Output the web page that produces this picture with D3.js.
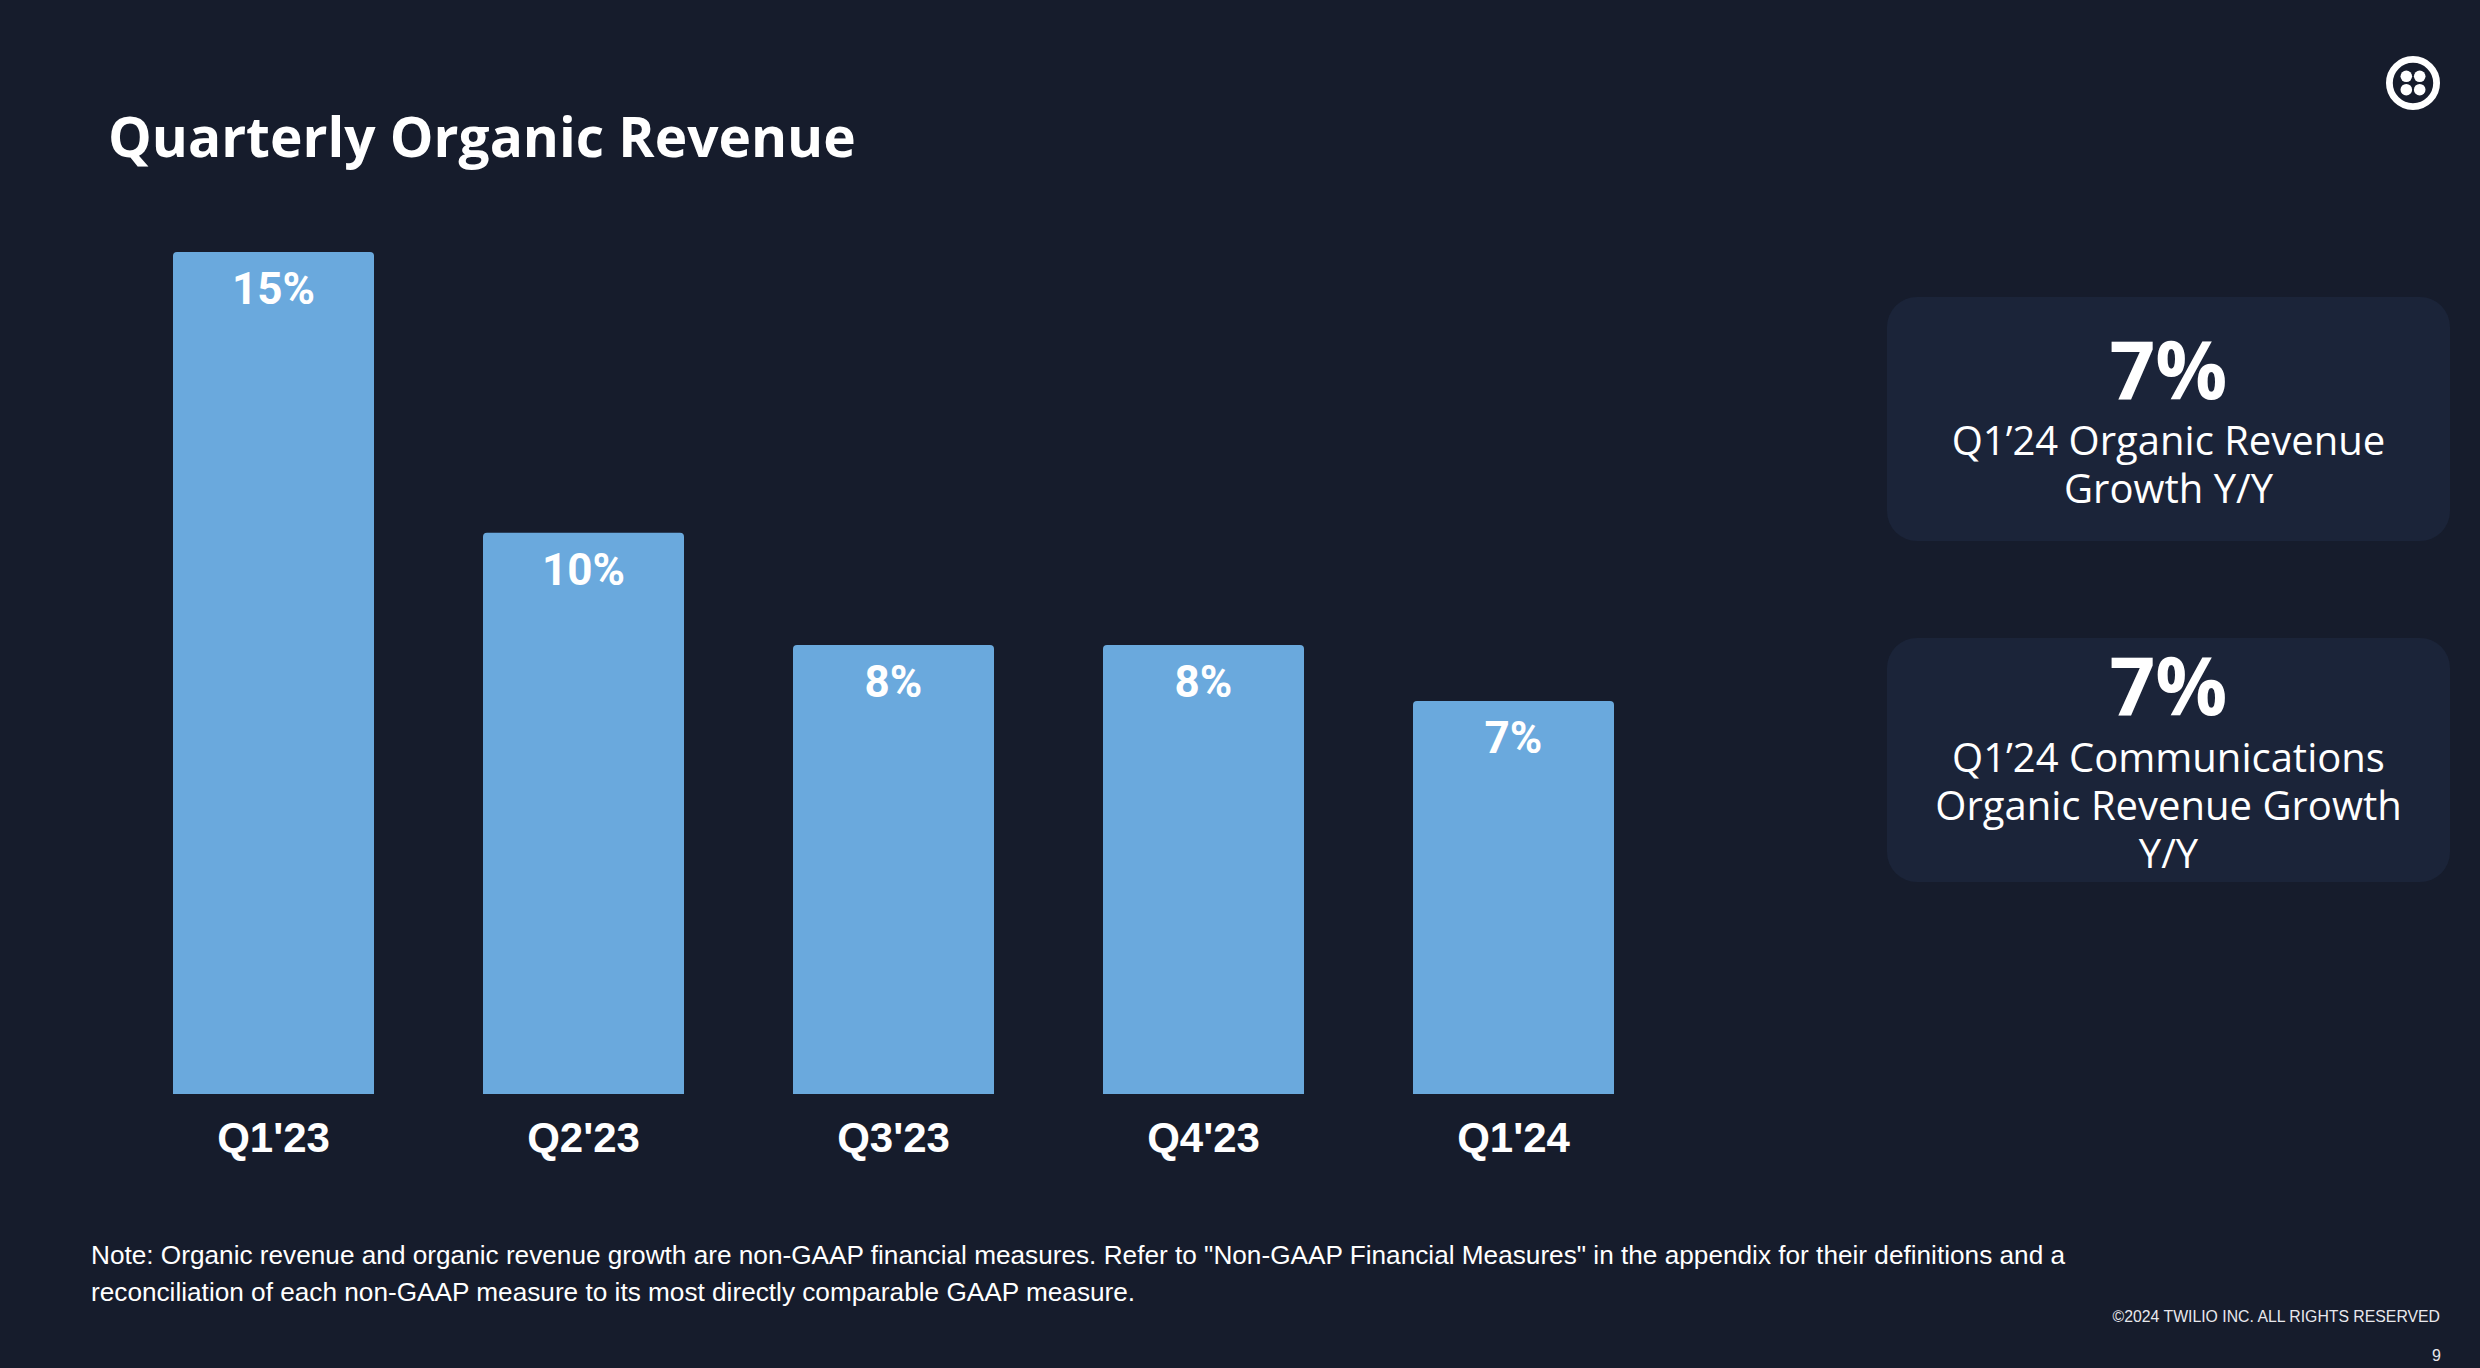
<!DOCTYPE html>
<html>
<head>
<meta charset="utf-8">
<script src="https://cdn.jsdelivr.net/npm/d3@7/dist/d3.min.js"></script>
<style>
  html, body { margin: 0; padding: 0; background: #161c2c; }
  svg { display: block; }
</style>
</head>
<body>
<svg id="chart" width="2480" height="1368"></svg>
<script>
const categories = ["Q1'23", "Q2'23", "Q3'23", "Q4'23", "Q1'24"];
const growthValues = [15, 10, 8, 8, 7];
const valueLabels = ["15%", "10%", "8%", "8%", "7%"];
const title = "Quarterly Organic Revenue";
const kpiValues = ["7%", "7%"];
const kpiLabels = [
  ["Q1\u201924 Organic Revenue", "Growth Y/Y"],
  ["Q1\u201924 Communications", "Organic Revenue Growth", "Y/Y"]
];
const noteLines = [
  "Note: Organic revenue and organic revenue growth are non-GAAP financial measures. Refer to \"Non-GAAP Financial Measures\" in the appendix for their definitions and a",
  "reconciliation of each non-GAAP measure to its most directly comparable GAAP measure."
];
const copyright = "\u00A92024 TWILIO INC. ALL RIGHTS RESERVED";
const pageNumber = "9";

const BG = "#161c2c";
const BAR = "#6aa9dd";
const BOX = "#1b2439";

const svg = d3.select("#chart");
svg.append("rect").attr("width", 2480).attr("height", 1368).attr("fill", BG);

// Title
svg.append("text").attr("x", 108).attr("y", 157)
  .attr("font-family", "'Open Sans'").attr("font-weight", 700).attr("font-size", 55)
  .attr("fill", "#ffffff").text(title);

// Logo
const logo = svg.append("g").attr("transform", "translate(2413,83)");
logo.append("circle").attr("r", 23.6).attr("fill", "none").attr("stroke", "#ffffff").attr("stroke-width", 6.8);
[[-6.7,-6.7],[6.7,-6.7],[-6.7,6.7],[6.7,6.7]].forEach(([dx,dy]) => {
  logo.append("circle").attr("cx", dx).attr("cy", dy).attr("r", 5.8).attr("fill", "#ffffff");
});

// Scales
const x = d3.scaleBand().domain(categories).range([173, 1614]).paddingInner(1 - 201/310).paddingOuter(0);
const y = d3.scaleLinear().domain([0, 15]).range([1094, 252]);

const data = categories.map((c, i) => ({ c, v: growthValues[i], label: valueLabels[i] }));

function topRounded(x0, y0, w, h, r) {
  return `M${x0},${y0 + h} L${x0},${y0 + r} Q${x0},${y0} ${x0 + r},${y0} L${x0 + w - r},${y0} Q${x0 + w},${y0} ${x0 + w},${y0 + r} L${x0 + w},${y0 + h} Z`;
}

svg.append("g").selectAll("path").data(data).join("path")
  .attr("d", d => topRounded(x(d.c), y(d.v), x.bandwidth(), y(0) - y(d.v), 4))
  .attr("fill", BAR);

svg.append("g").selectAll("text").data(data).join("text")
  .attr("x", d => x(d.c) + x.bandwidth() / 2)
  .attr("y", d => y(d.v) + 52)
  .attr("text-anchor", "middle")
  .attr("font-family", "Roboto").attr("font-weight", 700).attr("font-size", 44)
  .attr("fill", "#ffffff").text(d => d.label);

// X axis labels
const xAxis = d3.axisBottom(x).tickSize(0).tickPadding(0);
const ax = svg.append("g").attr("transform", "translate(0,1094)").call(xAxis);
ax.select(".domain").remove();
ax.selectAll("text")
  .attr("dy", null).attr("y", 58)
  .attr("font-family", "'Liberation Sans', Arial, sans-serif").attr("font-weight", 700).attr("font-size", 42)
  .attr("fill", "#ffffff");

// KPI boxes
const boxes = [
  { top: 297, bottom: 541, valueY: 399, lineYs: [455, 503] },
  { top: 638, bottom: 882, valueY: 715, lineYs: [772, 820, 868] }
];
const boxX0 = 1887, boxX1 = 2450, boxCx = (boxX0 + boxX1) / 2;
boxes.forEach((b, i) => {
  const g = svg.append("g");
  g.append("rect").attr("x", boxX0).attr("y", b.top).attr("width", boxX1 - boxX0).attr("height", b.bottom - b.top)
    .attr("rx", 30).attr("fill", BOX);
  g.append("text").attr("x", boxCx).attr("y", b.valueY).attr("text-anchor", "middle")
    .attr("font-family", "'Open Sans'").attr("font-weight", 700).attr("font-size", 80)
    .attr("fill", "#ffffff").text(kpiValues[i]);
  kpiLabels[i].forEach((line, j) => {
    g.append("text").attr("x", boxCx).attr("y", b.lineYs[j]).attr("text-anchor", "middle")
      .attr("font-family", "'Open Sans'").attr("font-weight", 400).attr("font-size", 40)
      .attr("fill", "#ffffff").text(line);
  });
});

// Footnote
noteLines.forEach((line, i) => {
  svg.append("text").attr("x", 91).attr("y", 1264 + i * 37)
    .attr("font-family", "'Liberation Sans', Arial, sans-serif").attr("font-size", 26.2)
    .attr("fill", "#ffffff").text(line);
});

// Copyright & page
svg.append("text").attr("x", 2440).attr("y", 1322).attr("text-anchor", "end")
  .attr("font-family", "'Liberation Sans', Arial, sans-serif").attr("font-size", 15.8)
  .attr("fill", "#e8e8ec").text(copyright);
svg.append("text").attr("x", 2441).attr("y", 1361).attr("text-anchor", "end")
  .attr("font-family", "'Liberation Sans', Arial, sans-serif").attr("font-size", 16)
  .attr("fill", "#e8e8ec").text(pageNumber);
</script>
</body>
</html>
